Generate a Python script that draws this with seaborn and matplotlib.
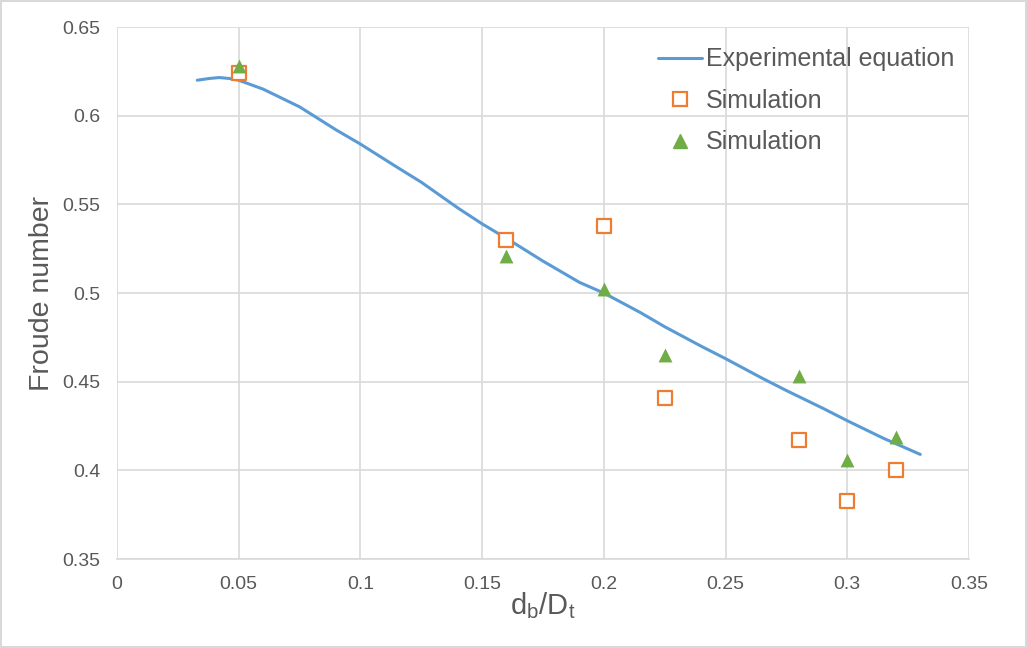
import matplotlib
matplotlib.use("Agg")
import matplotlib.pyplot as plt
import seaborn as sns
import pandas as pd
from matplotlib.lines import Line2D

# Experimental equation curve
curve_x = [0.033, 0.038, 0.042, 0.046, 0.05, 0.06, 0.075, 0.09, 0.1, 0.115, 0.125, 0.14, 0.15,
           0.161, 0.175, 0.19, 0.2, 0.215, 0.225, 0.24, 0.25, 0.265, 0.275, 0.29, 0.3, 0.315, 0.33]
curve_y = [0.620, 0.621, 0.6215, 0.621, 0.620, 0.615, 0.605, 0.592, 0.584, 0.571, 0.5625, 0.548, 0.539,
           0.530, 0.518, 0.506, 0.500, 0.489, 0.481, 0.470, 0.463, 0.452, 0.445, 0.435, 0.428, 0.418, 0.409]

sim_x = [0.05, 0.16, 0.2, 0.225, 0.28, 0.3, 0.32]
sim_sq_y = [0.624, 0.530, 0.538, 0.441, 0.417, 0.383, 0.400]
sim_tri_y = [0.628, 0.521, 0.502, 0.465, 0.453, 0.406, 0.419]

x_ticks = [0, 0.05, 0.1, 0.15, 0.2, 0.25, 0.3, 0.35]
x_tick_labels = ["0", "0.05", "0.1", "0.15", "0.2", "0.25", "0.3", "0.35"]
y_ticks = [0.35, 0.4, 0.45, 0.5, 0.55, 0.6, 0.65]
y_tick_labels = ["0.35", "0.4", "0.45", "0.5", "0.55", "0.6", "0.65"]

sns.set_style("white")
plt.rcParams['font.family'] = ['Liberation Sans', 'DejaVu Sans']

BLUE = "#5B9BD5"
ORANGE = "#ED7D31"
GREEN = "#70AD47"
TXT = "#595959"
GRID = "#D9D9D9"

fig = plt.figure(figsize=(10.27, 6.48), dpi=100)
fig.patch.set_edgecolor("#D9D9D9")
fig.patch.set_linewidth(1.5)
ax = fig.add_axes([0.1139, 0.1373, 0.8296, 0.821])

curve_df = pd.DataFrame({"x": curve_x, "y": curve_y})
sq_df = pd.DataFrame({"x": sim_x, "y": sim_sq_y})
tri_df = pd.DataFrame({"x": sim_x, "y": sim_tri_y})

sns.lineplot(data=curve_df, x="x", y="y", ax=ax, color=BLUE, linewidth=2.2, sort=False, zorder=3)
sns.scatterplot(data=sq_df, x="x", y="y", ax=ax, marker="s", s=110, facecolor="white",
                edgecolor=ORANGE, linewidth=1.6, zorder=4)
sns.scatterplot(data=tri_df, x="x", y="y", ax=ax, marker="^", s=100, color=GREEN,
                edgecolor=GREEN, linewidth=0, zorder=5)

ax.set_xlim(0, 0.35)
ax.set_ylim(0.35, 0.65)
ax.set_xticks(x_ticks)
ax.set_xticklabels(x_tick_labels)
ax.set_yticks(y_ticks)
ax.set_yticklabels(y_tick_labels)
ax.grid(True, color=GRID, linewidth=1.2)
ax.set_axisbelow(True)
for side in ["top", "right", "left"]:
    ax.spines[side].set_visible(False)
ax.spines["bottom"].set_color(GRID)
ax.spines["bottom"].set_linewidth(1.2)
ax.tick_params(axis="both", length=0, labelsize=14, labelcolor=TXT)
ax.tick_params(axis="x", pad=12)
ax.tick_params(axis="y", pad=12)

ax.set_xlabel(r"d$_\mathregular{b}$/D$_\mathregular{t}$", fontsize=21, color=TXT, labelpad=-2)
ax.set_ylabel("Froude number", fontsize=20.5, color=TXT, labelpad=5)

handles = [
    Line2D([0], [0], color=BLUE, linewidth=2.2),
    Line2D([0], [0], marker="s", linestyle="none", markersize=9.5, markerfacecolor="white",
           markeredgecolor=ORANGE, markeredgewidth=1.6),
    Line2D([0], [0], marker="^", linestyle="none", markersize=9.5, color=GREEN),
]
labels = ["Experimental equation", "Simulation", "Simulation"]
leg = ax.legend(handles, labels, loc="upper right", bbox_to_anchor=(1.0, 0.99), frameon=False,
                fontsize=18, labelspacing=0.7, handlelength=1.75, handletextpad=0.15, borderaxespad=0.2)
for t in leg.get_texts():
    t.set_color(TXT)

fig.savefig("out.png", dpi=100)
